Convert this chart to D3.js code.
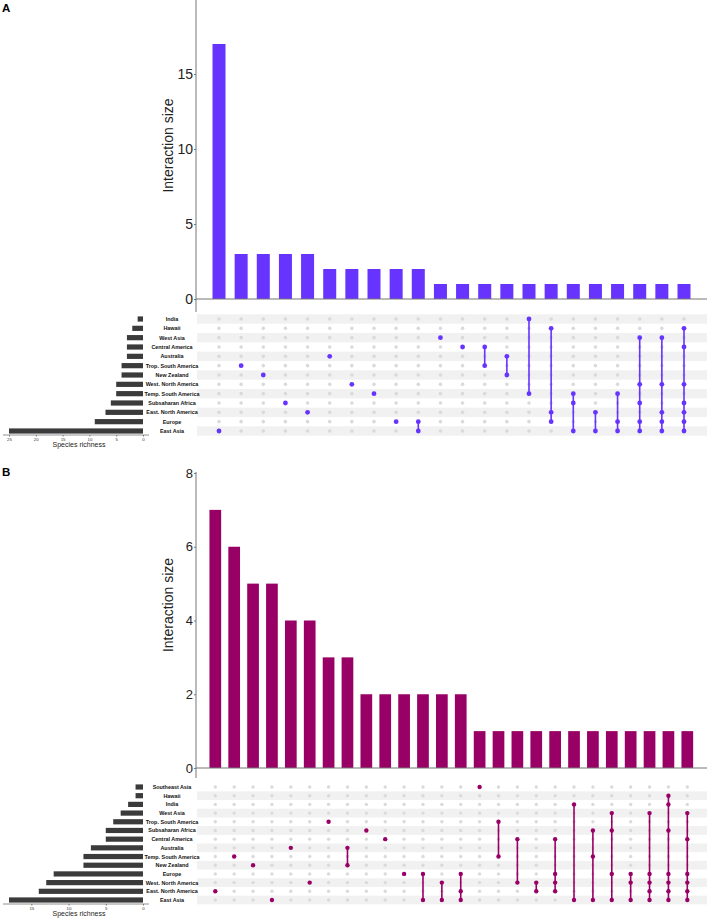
<!DOCTYPE html>
<html><head><meta charset="utf-8">
<script src="https://cdn.jsdelivr.net/npm/d3@7/dist/d3.min.js"></script>
<style>body{margin:0;background:#fff}svg{display:block;font-family:"Liberation Sans",Arial,sans-serif}</style>
</head><body><svg id="c" width="708" height="921"></svg>
<script>
// ---------- Panel A data ----------
const setsA = ["India","Hawaii","West Asia","Central America","Australia","Trop. South America","New Zealand","West. North America","Temp. South America","Subsaharan Africa","East. North America","Europe","East Asia"];
const setSizesA = [1,2,3,3,3,4,4,5,5,6,7,9,25];
const interSizesA = [17,3,3,3,3,2,2,2,2,2,1,1,1,1,1,1,1,1,1,1,1,1];
const interSetsA = [
 ["East Asia"],["Trop. South America"],["New Zealand"],["Subsaharan Africa"],["East. North America"],
 ["Australia"],["West. North America"],["Temp. South America"],["Europe"],["Europe","East Asia"],
 ["West Asia"],["Central America"],["Central America","Trop. South America"],["Australia","New Zealand"],
 ["India","Temp. South America"],["Hawaii","East. North America","Europe"],
 ["Temp. South America","Subsaharan Africa","East Asia"],["East. North America","East Asia"],
 ["Temp. South America","Europe","East Asia"],
 ["West Asia","West. North America","Subsaharan Africa","Europe","East Asia"],
 ["West Asia","West. North America","East. North America","Europe","East Asia"],
 ["Hawaii","Central America","West. North America","Subsaharan Africa","East. North America","Europe","East Asia"]
];
const barTicksA = [0,5,10,15];
const sizeTicksA = [0,5,10,15,20,25];

// ---------- Panel B data ----------
const setsB = ["Southeast Asia","Hawaii","India","West Asia","Trop. South America","Subsaharan Africa","Central America","Australia","Temp. South America","New Zealand","Europe","West. North America","East. North America","East Asia"];
const setSizesB = [1,1,2,3,4,5,5,7,8,8,12,13,14,18];
const interSizesB = [7,6,5,5,4,4,3,3,2,2,2,2,2,2,1,1,1,1,1,1,1,1,1,1,1,1];
const interSetsB = [
 ["East. North America"],["Temp. South America"],["New Zealand"],["East Asia"],["Australia"],
 ["West. North America"],["Trop. South America"],["Australia","New Zealand"],["Subsaharan Africa"],
 ["Central America"],["Europe"],["Europe","East Asia"],["West. North America","East Asia"],
 ["Europe","East. North America","East Asia"],["Southeast Asia"],["Trop. South America","Temp. South America"],
 ["Central America","West. North America"],["West. North America","East. North America"],
 ["Central America","Europe","West. North America","East. North America"],["India","East Asia"],
 ["Subsaharan Africa","Temp. South America","East Asia"],["West Asia","Subsaharan Africa","Europe","East Asia"],
 ["Europe","West. North America","East Asia"],
 ["West Asia","Europe","West. North America","East. North America","East Asia"],
 ["Hawaii","India","Subsaharan Africa","Europe","West. North America","East. North America","East Asia"],
 ["West Asia","Central America","Europe","West. North America","East. North America","East Asia"]
];
const barTicksB = [0,2,4,6,8];
const sizeTicksB = [0,5,10,15];

const svg = d3.select("#c");

function panel(o){
  const g = svg.append("g");
  const cols = d3.range(o.inter.length);
  const x = d3.scalePoint().domain(cols).range(o.colRange);
  const y = d3.scaleLinear().domain([0, o.yMax]).range(o.yRange);
  const r = d3.scalePoint().domain(o.sets).range(o.rowRange);
  const step = r.step();
  const sx = d3.scaleLinear().domain([0, o.sizeMax]).range([143, 9]);

  g.append("text").attr("x",2).attr("y",o.letterY).attr("font-size",11.5).attr("font-weight","bold").text(o.letter);

  g.selectAll(".bar").data(o.sizes).join("rect")
    .attr("x",(d,i)=>x(i)-o.barW/2).attr("width",o.barW)
    .attr("y",d=>y(d)).attr("height",d=>y(0)-y(d)).attr("fill",o.color);

  const ax = g.append("g").attr("transform",`translate(${o.axisX},0)`)
    .call(d3.axisLeft(y).tickValues(o.barTicks).tickSize(2).tickPadding(1).tickSizeOuter(0));
  ax.select(".domain").remove();
  ax.selectAll("line").attr("stroke","#777");
  ax.selectAll("text").attr("font-size",o.tickFont).attr("fill","#222").attr("font-family","Liberation Sans, Arial");
  g.append("line").attr("x1",o.axisX).attr("x2",o.axisX).attr("y1",o.axisTop).attr("y2",o.axisBottom).attr("stroke","#777").attr("stroke-width",1);
  g.append("line").attr("x1",o.axisX).attr("x2",707).attr("y1",y(0)).attr("y2",y(0)).attr("stroke","#777").attr("stroke-width",1.2);
  g.append("text").attr("transform",`translate(168,${(o.axisTop+y(0))/2 + o.labelShift}) rotate(-90)`)
    .attr("text-anchor","middle").attr("dominant-baseline","central").attr("font-size",14).attr("fill","#222").text("Interaction size");

  const n = o.sets.length;
  g.selectAll(".stripe").data(o.sets.filter((s,i)=>(n-1-i)%2===0)).join("rect")
    .attr("x",o.axisX+1).attr("width",707-o.axisX-1)
    .attr("y",d=>r(d)-step/2).attr("height",step).attr("fill","#f1f1f1");

  cols.forEach(c=>{
    g.selectAll(null).data(o.sets).join("circle")
      .attr("cx",x(c)).attr("cy",d=>r(d)).attr("r",o.greyR).attr("fill","#dadada");
  });
  o.inter.forEach((members,c)=>{
    const ys = members.map(m=>r(m));
    if(members.length>1){
      g.append("line").attr("x1",x(c)).attr("x2",x(c)).attr("y1",d3.min(ys)).attr("y2",d3.max(ys))
        .attr("stroke",o.color).attr("stroke-width",1.6);
    }
    g.selectAll(null).data(members).join("circle")
      .attr("cx",x(c)).attr("cy",d=>r(d)).attr("r",o.dotR).attr("fill",o.color);
  });

  g.selectAll(".lab").data(o.sets).join("text")
    .attr("x",172).attr("y",d=>r(d)).attr("text-anchor","middle").attr("dominant-baseline","central")
    .attr("font-size",5.4).attr("font-weight","bold").attr("fill","#111").text(d=>d);

  g.selectAll(".sbar").data(o.setSizes).join("rect")
    .attr("x",d=>sx(d)).attr("width",d=>sx(0)-sx(d))
    .attr("y",(d,i)=>r(o.sets[i])-2.6).attr("height",5.2).attr("fill","#3b3b3b");

  const sa = g.append("g").attr("transform",`translate(0,${o.sizeAxisY})`)
    .call(d3.axisBottom(sx).tickValues(o.sizeTicks).tickSize(1.5).tickPadding(1).tickSizeOuter(0));
  sa.select(".domain").remove();
  sa.selectAll("line").attr("stroke","#777");
  sa.selectAll("text").attr("font-size",4.4).attr("fill","#333").attr("font-family","Liberation Sans, Arial");
  g.append("line").attr("x1",3).attr("x2",149).attr("y1",o.sizeAxisY).attr("y2",o.sizeAxisY).attr("stroke","#777").attr("stroke-width",0.8);
  g.append("text").attr("x",79).attr("y",o.sizeAxisY+12).attr("text-anchor","middle")
    .attr("font-size",7).attr("fill","#222").text("Species richness");
}

panel({letter:"A",letterY:12,sets:setsA,setSizes:setSizesA,sizes:interSizesA,inter:interSetsA,
  colRange:[219,684],yMax:17,yRange:[299,44],barTicks:barTicksA,axisX:196,axisTop:0,axisBottom:312,
  rowRange:[319,431],barW:13,color:"#6633ff",greyR:1.8,dotR:2.4,sizeMax:25,sizeTicks:sizeTicksA,sizeAxisY:435,
  tickFont:14,labelShift:-4});

panel({letter:"B",letterY:476,sets:setsB,setSizes:setSizesB,sizes:interSizesB,inter:interSetsB,
  colRange:[215.3,687.3],yMax:8,yRange:[768,473],barTicks:barTicksB,axisX:196,axisTop:472,axisBottom:778,
  rowRange:[787,900],barW:11.7,color:"#990066",greyR:1.7,dotR:2.2,sizeMax:18,sizeTicks:sizeTicksB,sizeAxisY:904,
  tickFont:13,labelShift:-15});
</script></body></html>
